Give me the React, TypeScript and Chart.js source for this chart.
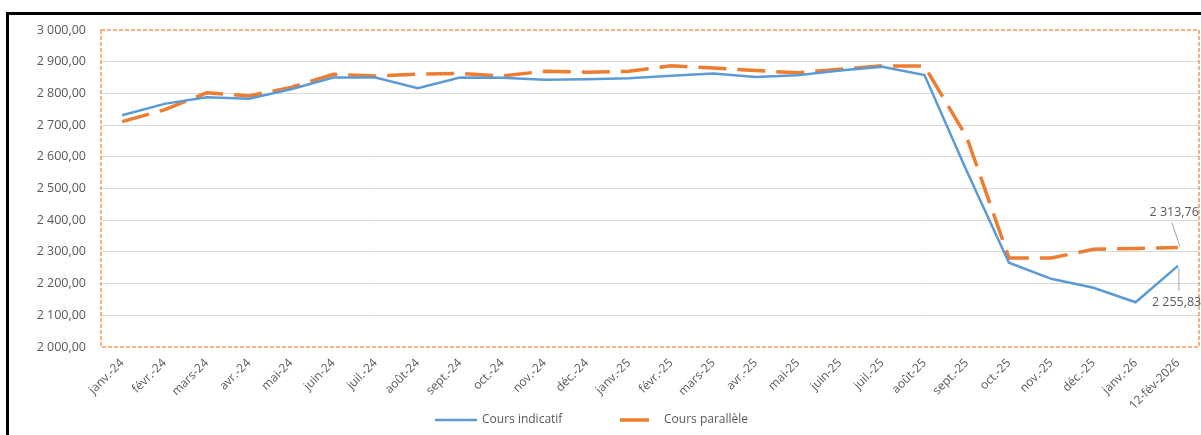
import React, { useEffect, useRef } from "react";
import { Chart, registerables } from "chart.js";

Chart.register(...registerables);

const categories = [
  "janv.-24", "févr.-24", "mars-24", "avr.-24", "mai-24", "juin-24", "juil.-24", "août-24",
  "sept.-24", "oct.-24", "nov.-24", "déc.-24", "janv.-25", "févr.-25", "mars-25", "avr.-25",
  "mai-25", "juin-25", "juil.-25", "août-25", "sept.-25", "oct.-25", "nov.-25", "déc.-25",
  "janv.-26", "12-fév-2026",
];

const coursIndicatif = [
  2731, 2767, 2788, 2783, 2813, 2850, 2850, 2816, 2850, 2849, 2843, 2845, 2848, 2856, 2863,
  2852, 2857, 2872, 2884, 2858, 2555, 2266, 2215, 2187, 2141, 2255.83,
];

const coursParallele = [
  2711, 2748, 2802, 2792, 2819, 2860, 2855, 2861, 2863, 2855, 2870, 2867, 2870, 2887, 2880,
  2872, 2865, 2876, 2887, 2886, 2662, 2281, 2281, 2308, 2311, 2313.76,
];

const seriesNames = ["Cours indicatif", "Cours parallèle"];
const endLabels = ["2 255,83", "2 313,76"];

const BLUE = "#5B9BD5";
const ORANGE = "#ED7D31";
const TEXT = "#595959";
const FONT = "'Open Sans', sans-serif";

function fmt(v: number): string {
  const n = Math.round(v);
  const s = String(n);
  const th = s.length > 3 ? s.slice(0, s.length - 3) + " " + s.slice(-3) : s;
  return th + ",00";
}

const decorPlugin = {
  id: "decor",
  afterDraw(chart: any) {
    const { ctx, chartArea } = chart;
    ctx.save();
    // dashed orange plot-area border
    ctx.strokeStyle = "rgba(237,125,49,0.8)";
    ctx.lineWidth = 1.5;
    ctx.setLineDash([4, 2]);
    ctx.strokeRect(chartArea.left, chartArea.top, chartArea.right - chartArea.left, chartArea.bottom - chartArea.top);
    ctx.setLineDash([]);

    // end labels with leader lines
    ctx.font = "12.5px " + FONT;
    ctx.fillStyle = TEXT;
    ctx.strokeStyle = "#A6A6A6";
    ctx.lineWidth = 1;
    ctx.textBaseline = "middle";
    const mb = chart.getDatasetMeta(0);
    const pb = mb.data[mb.data.length - 1];
    ctx.beginPath();
    ctx.moveTo(pb.x + 1, pb.y + 2);
    ctx.lineTo(pb.x + 1, pb.y + 25);
    ctx.stroke();
    ctx.textAlign = "left";
    ctx.fillText(endLabels[0], pb.x - 26, pb.y + 37);

    const mo = chart.getDatasetMeta(1);
    const po = mo.data[mo.data.length - 1];
    ctx.beginPath();
    ctx.moveTo(po.x - 6, po.y - 25);
    ctx.lineTo(po.x + 2, po.y - 1);
    ctx.stroke();
    ctx.textAlign = "right";
    ctx.fillText(endLabels[1], po.x + 21, po.y - 35);

    // legend
    const ly = 420;
    ctx.font = "12px " + FONT;
    ctx.textAlign = "left";
    ctx.lineCap = "butt";
    ctx.strokeStyle = BLUE;
    ctx.lineWidth = 2.5;
    ctx.beginPath();
    ctx.moveTo(435, ly);
    ctx.lineTo(477, ly);
    ctx.stroke();
    ctx.fillStyle = TEXT;
    ctx.fillText(seriesNames[0], 482, ly);
    ctx.strokeStyle = ORANGE;
    ctx.lineWidth = 3.5;
    ctx.beginPath();
    ctx.moveTo(620, ly);
    ctx.lineTo(649, ly);
    ctx.stroke();
    ctx.fillText(seriesNames[1], 664, ly);
    ctx.restore();
  },
};

export default function App() {
  const ref = useRef<HTMLCanvasElement | null>(null);
  useEffect(() => {
    if (!ref.current) return;
    const chart = new Chart(ref.current, {
      type: "line",
      data: {
        labels: categories,
        datasets: [
          {
            label: seriesNames[0],
            data: coursIndicatif,
            borderColor: BLUE,
            backgroundColor: BLUE,
            borderWidth: 2.5,
            pointRadius: 0,
            tension: 0,
          },
          {
            label: seriesNames[1],
            data: coursParallele,
            borderColor: ORANGE,
            backgroundColor: ORANGE,
            borderWidth: 3.5,
            borderDash: [28, 11],
            pointRadius: 0,
            tension: 0,
          },
        ],
      },
      options: {
        responsive: false,
        animation: false,
        layout: { padding: { left: 0, top: 30, right: 2, bottom: 0 } },
        plugins: {
          legend: { display: false },
          tooltip: { enabled: false },
          title: { display: false },
        },
        scales: {
          x: {
            offset: true,
            grid: { display: false, drawTicks: false },
            border: { display: false },
            ticks: {
              autoSkip: false,
              maxRotation: 45,
              minRotation: 45,
              padding: 9,
              color: TEXT,
              font: { family: FONT, size: 12 },
            },
            afterFit: (scale: any) => {
              scale.height = 88;
            },
          },
          y: {
            min: 2000,
            max: 3000,
            grid: {
              drawTicks: false,
              color: (c: any) =>
                c.tick && (c.tick.value === 2000 || c.tick.value === 3000) ? "rgba(0,0,0,0)" : "#D9D9D9",
            },
            border: { display: false },
            ticks: {
              stepSize: 100,
              padding: 15,
              color: TEXT,
              font: { family: FONT, size: 12.5 },
              callback: (v: any) => fmt(Number(v)),
            },
            afterFit: (scale: any) => {
              scale.width = 101;
            },
          },
        },
      },
      plugins: [decorPlugin],
    });
    return () => chart.destroy();
  }, []);

  return (
    <div
      style={{
        position: "fixed",
        left: 0,
        top: 0,
        width: 1201,
        height: 435,
        overflow: "hidden",
        background: "#fff",
      }}
    >
      <div
        style={{
          position: "absolute",
          left: 6,
          top: 12,
          width: 1400,
          height: 600,
          borderLeft: "3px solid #000",
          borderTop: "3px solid #000",
        }}
      />
      <canvas
        ref={ref}
        width={1201}
        height={435}
        style={{ position: "absolute", left: 0, top: 0, width: 1201, height: 435 }}
      />
    </div>
  );
}
